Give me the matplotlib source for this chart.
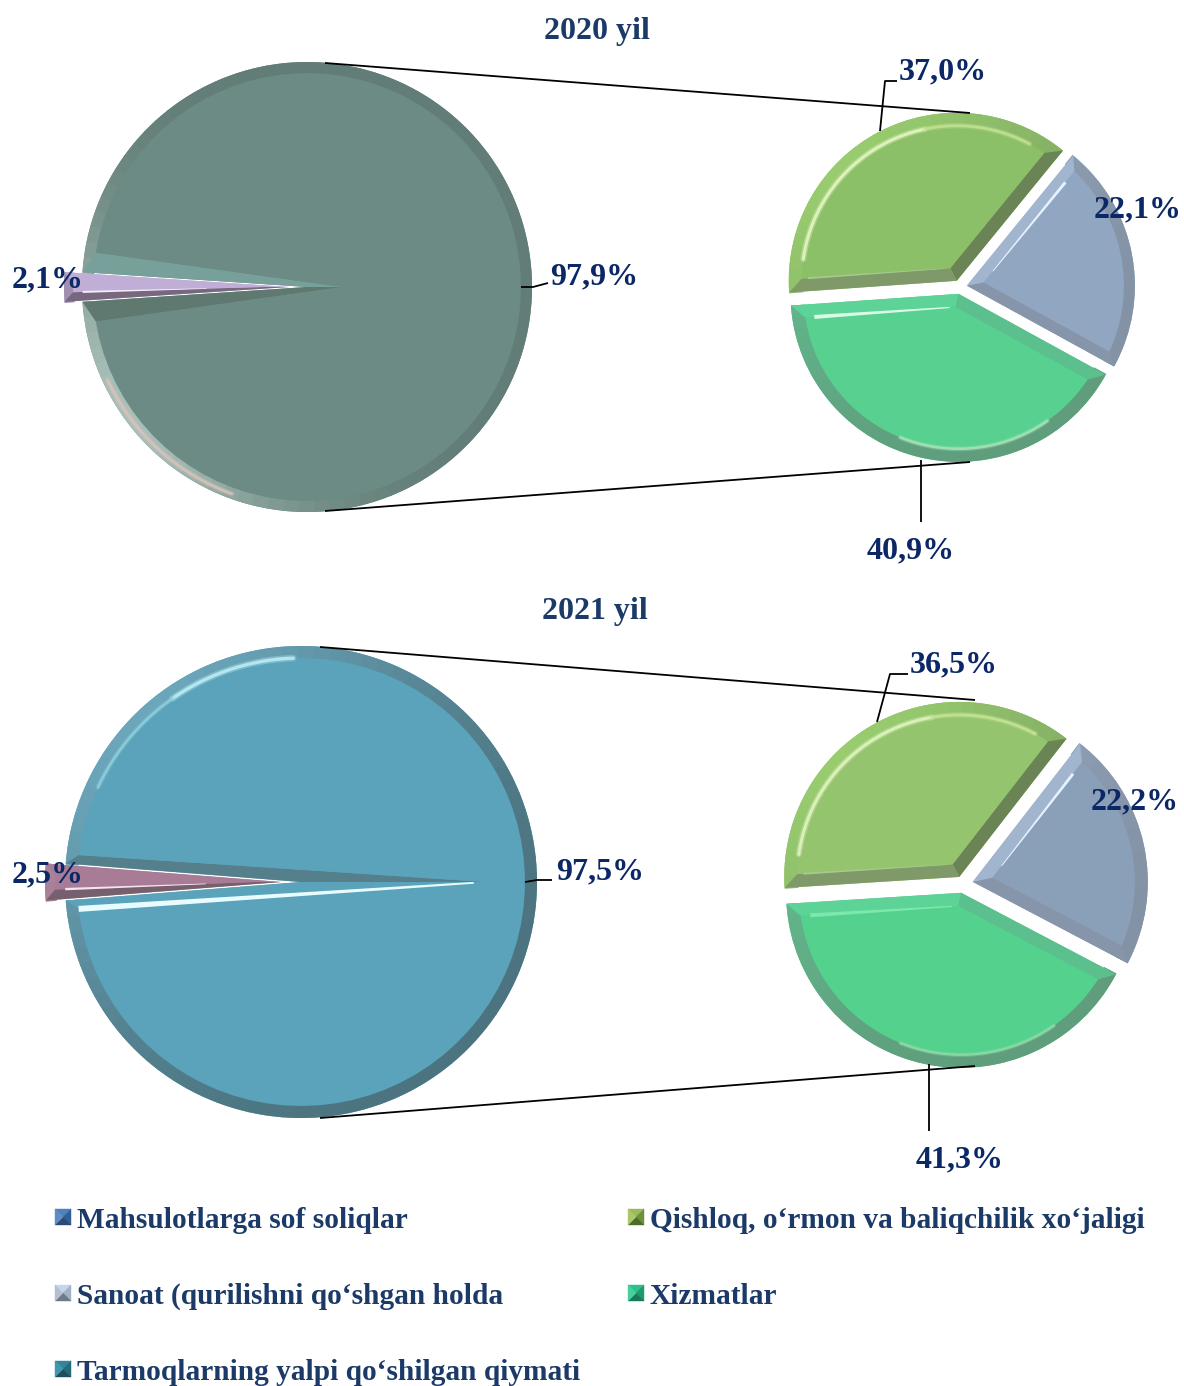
import numpy as np
import matplotlib
matplotlib.use("Agg")
import matplotlib.pyplot as plt
from matplotlib.colors import to_rgb
from matplotlib.patches import Wedge

W = 1184
H = 1386

# data
years = ["2020 yil", "2021 yil"]
main_2020 = [2.1, 97.9]
main_2021 = [2.5, 97.5]
detail_2020 = [37.0, 22.1, 40.9]
detail_2021 = [36.5, 22.2, 41.3]
main_labels_2020 = ["2,1%", "97,9%"]
main_labels_2021 = ["2,5%", "97,5%"]
detail_labels_2020 = ["37,0%", "22,1%", "40,9%"]
detail_labels_2021 = ["36,5%", "22,2%", "41,3%"]
legend_names = ["Mahsulotlarga sof soliqlar", "Qishloq, o‘rmon va baliqchilik xo‘jaligi",
                "Sanoat (qurilishni qo‘shgan holda", "Xizmatlar",
                "Tarmoqlarning yalpi qo‘shilgan qiymati"]

NAVY = "#0b2766"
LEG = "#1b3a68"


def Y(y):  # picture pixel row -> data y
    return H - y


def lerp(a, b, t):
    a, b = np.array(to_rgb(a)), np.array(to_rgb(b))
    return tuple(a + (b - a) * t)


def arc_pts(c, r, a1, a2, n=80):
    a = np.radians(np.linspace(a1, a2, n))
    return c[0] + r * np.cos(a), c[1] + r * np.sin(a)


def bevel(ax, w, st):
    c, r, t1, t2 = w.center, w.r, w.theta1, w.theta2
    inset = st["inset"]
    r_in = r - inset
    half = (t2 - t1) / 2
    mid = np.radians((t1 + t2) / 2)
    da = st.get("da", np.degrees(np.arcsin(inset / r_in)))
    shift = st.get("shift", inset / np.sin(np.radians(half)))
    apex = (c[0] + shift * np.cos(mid), c[1] + shift * np.sin(mid))

    # rim, shaded by the direction of the light
    z = w.get_zorder() + 0.1
    light = st.get("light", 135)
    power = st.get("power", 2)
    angs = np.linspace(t1, t2, max(int((t2 - t1) / 4), 2) + 1)
    for a1, a2 in zip(angs[:-1], angs[1:]):
        t = (1 + np.cos(np.radians((a1 + a2) / 2 - light))) / 2
        col = lerp(st["rim_dark"], st["rim_light"], t ** power)
        ax.add_patch(Wedge(c, r, a1, a2 + 0.3, width=inset + 1, fc=col, ec="none", zorder=z))

    # side bands and the flat top
    x1, y1 = arc_pts(c, r, t1, t1, 1)
    x2, y2 = arc_pts(c, r, t2, t2, 1)
    xi1, yi1 = arc_pts(c, r_in, t1 + da, t1 + da, 1)
    xi2, yi2 = arc_pts(c, r_in, t2 - da, t2 - da, 1)
    ax.fill([c[0], x1[0], xi1[0], apex[0]], [c[1], y1[0], yi1[0], apex[1]],
            fc=st["side1"], ec="none", zorder=z + 0.1)
    ax.fill([c[0], x2[0], xi2[0], apex[0]], [c[1], y2[0], yi2[0], apex[1]],
            fc=st["side2"], ec="none", zorder=z + 0.1)
    xa, ya = arc_pts(c, r_in, t1 + da, t2 - da)
    ax.fill(np.r_[apex[0], xa], np.r_[apex[1], ya], fc=st["fill"], ec="none", zorder=z + 0.2)

    # shiny bits, a soft wide stroke under a thin one
    for a1, a2, col, lw, off in st.get("arcs", []):
        xs, ys = arc_pts(c, r_in + off, a1, a2)
        ax.plot(xs, ys, color=col, lw=lw * 2, alpha=0.3, solid_capstyle="round", zorder=z + 0.3)
        ax.plot(xs, ys, color=col, lw=lw, alpha=0.85, solid_capstyle="round", zorder=z + 0.3)
    for side, col, wid, f0, f1 in st.get("edges", []):
        ex, ey = (xi1[0], yi1[0]) if side == 1 else (xi2[0], yi2[0])
        p0 = np.array([apex[0] + (ex - apex[0]) * f0, apex[1] + (ey - apex[1]) * f0])
        p1 = np.array([apex[0] + (ex - apex[0]) * f1, apex[1] + (ey - apex[1]) * f1])
        d = (p1 - p0) / np.hypot(*(p1 - p0))
        n = np.array([-d[1], d[0]]) * wid / 2
        # thin towards the apex
        ax.fill([p0[0] + n[0] * 0.3, p1[0] + n[0], p1[0] - n[0], p0[0] - n[0] * 0.3],
                [p0[1] + n[1] * 0.3, p1[1] + n[1], p1[1] - n[1], p0[1] - n[1] * 0.3],
                fc=col, ec="none", zorder=z + 0.3)


def draw_pie(ax, values, center, radius, start, explode, ccw, styles):
    # pie takes explode as a plain data distance here, so it is in pixels
    wedges, _ = ax.pie(values, center=(center[0], Y(center[1])), radius=radius,
                       startangle=start, explode=explode, counterclock=ccw,
                       colors=[s["fill"] for s in styles],
                       wedgeprops=dict(linewidth=0))
    for w, st in zip(wedges, styles):
        bevel(ax, w, st)


def leader(ax, xs, ys):
    ax.plot(xs, [Y(v) for v in ys], color="black", lw=1.3, zorder=6, solid_capstyle="butt")


def label(ax, x, y, s, ha="left"):
    ax.text(x, Y(y + 2), s, ha=ha, va="center", family="Liberation Serif", weight="bold",
            fontsize=23, color=NAVY, zorder=10)


def swatch(ax, x, y, cols):
    s = 16
    xc, yc = x + s / 2, y + s / 2
    corners = [(x, y), (x + s, y), (x + s, y + s), (x, y + s)]
    for i, col in enumerate(cols):
        a, b = corners[i], corners[(i + 1) % 4]
        ax.fill([a[0], b[0], xc], [Y(a[1]), Y(b[1]), Y(yc)], fc=col, ec=col, lw=0.3, zorder=5)


green = dict(fill="#8bbf68", rim_light="#98cc6f", rim_dark="#7ea562", side1="#6b8455", side2="#7f9a68", inset=13,
             arcs=[(102, 172, "#e6f7c4", 2.2, 0), (62, 102, "#c3e293", 2, 0)],
             edges=[(2, "#a6c98d", 2, 0.04, 0.96)])
blue = dict(fill="#91a6c1", rim_light="#9cb0ca", rim_dark="#8492a5", side1="#8795ab", side2="#a2b5cf", inset=11,
            edges=[(2, "#e4f2ff", 3, 0.1, 0.9)])
teal = dict(fill="#58d08f", rim_light="#63bf91", rim_dark="#5f9d7d", side1="#5ed398", side2="#5cbf8e", inset=13,
            arcs=[(-112, -55, "#a6e5b8", 1.8, 0)],
            edges=[(1, "#d9fbe6", 4, 0.04, 0.94)])
green21 = dict(green, fill="#95c46e", arcs=[(100, 172, "#e3f5c2", 2.2, 0), (62, 100, "#c6e596", 2, 0)])
blue21 = dict(blue, fill="#8a9fb8", inset=13)
teal21 = dict(teal, fill="#54d18d", edges=[(1, "#7ce8ab", 4, 0.04, 0.94)], arcs=[(-112, -55, "#8fdca8", 1.6, 0)])

big20 = dict(fill="#6b8b84", rim_light="#a9bfb8", rim_dark="#627d77", side1="#5f7870", side2="#78a09a", inset=11,
             da=5.5, shift=35, light=215, power=5, arcs=[(205, 250, "#d8c3bb", 2, 6)])
small20 = dict(fill="#c0aed6", rim_light="#a896b8", rim_dark="#8c7d96", side1="#c0aed6", side2="#77677f", inset=9,
               da=2.4, shift=25, edges=[(2, "#f4eef8", 2, 0.3, 0.95)])
big21 = dict(fill="#5ba3ba", rim_light="#6ba6bb", rim_dark="#4c7480", side1="#5ba3ba", side2="#567f8c", inset=12,
             da=2.4, shift=185, arcs=[(92, 125, "#bdeff7", 2.4, 0), (125, 155, "#8fd0df", 1.8, 0)],
             edges=[(1, "#e8fcff", 6, 0.03, 1.0)])
small21 = dict(fill="#a87b96", rim_light="#b58aa3", rim_dark="#8a6a7e", side1="#a87b96", side2="#76606e", inset=10,
               da=2.6, shift=25, edges=[(2, "#f8e4f0", 2.4, 0.25, 0.95)])

fig = plt.figure(figsize=(W / 100, H / 100), dpi=100)
ax = fig.add_axes([0, 0, 1, 1])

# 2020
leader(ax, [325, 970], [63, 113])
leader(ax, [325, 970], [511, 462])
draw_pie(ax, main_2020, (307, 287), 225, 180 - main_2020[0] * 1.8, [18, 0], True, [small20, big20])
draw_pie(ax, detail_2020, (960, 287), 168, 184, [7, 7, 7], False, [green, blue, teal])
leader(ax, [880, 885, 897], [131, 81, 81])
leader(ax, [921, 921], [460, 522])
leader(ax, [521, 533, 548], [287, 287, 283])

# 2021
leader(ax, [320, 975], [647, 700])
leader(ax, [320, 975], [1118, 1066])
draw_pie(ax, main_2021, (301, 882), 236, 180 - main_2021[0] * 1.8, [20, 0], True, [small21, big21])
draw_pie(ax, detail_2021, (963, 884), 175, 183.6, [8, 10, 9], False, [green21, blue21, teal21])
leader(ax, [877, 890, 908], [722, 674, 674])
leader(ax, [929, 929], [1064, 1131])
leader(ax, [525, 537, 552], [882, 880, 880])

# labels
for y_title, x_title, s in zip([31, 612], [597, 595], years):
    ax.text(x_title, Y(y_title), s, ha="center", va="center", family="Liberation Serif",
            weight="bold", fontsize=23, color=LEG, zorder=10)

label(ax, 12, 278, main_labels_2020[0])
label(ax, 550, 275, main_labels_2020[1])
label(ax, 899, 70, detail_labels_2020[0])
label(ax, 1094, 208, detail_labels_2020[1])
label(ax, 911, 549, detail_labels_2020[2], ha="center")
label(ax, 12, 873, main_labels_2021[0])
label(ax, 556, 870, main_labels_2021[1])
label(ax, 910, 663, detail_labels_2021[0])
label(ax, 1091, 800, detail_labels_2021[1])
label(ax, 960, 1158, detail_labels_2021[2], ha="center")

# legend
leg_x = [55, 628, 55, 628, 55]
leg_y = [1217, 1217, 1293, 1293, 1369]
leg_cols = [["#4f81bd", "#2f5f95", "#2c4a73", "#5f8cc4"],
            ["#9bbb59", "#6f8f3a", "#4f6b2a", "#a8c86a"],
            ["#c6d6ea", "#a3b1c4", "#6f7a88", "#b3c0d2"],
            ["#2fc18c", "#1f9a6e", "#1a7a58", "#46d09c"],
            ["#31859c", "#246a7d", "#1f4f5e", "#3f98ae"]]
for x, y, name, cols in zip(leg_x, leg_y, legend_names, leg_cols):
    swatch(ax, x, y - 8, cols)
    ax.text(x + 22, Y(y + 3), name, ha="left", va="center", family="Liberation Serif", weight="bold",
            fontsize=21.2, color=LEG)

ax.set_xlim(0, W)
ax.set_ylim(0, H)
ax.axis("off")
fig.savefig("out.png", dpi=100, facecolor="white")
